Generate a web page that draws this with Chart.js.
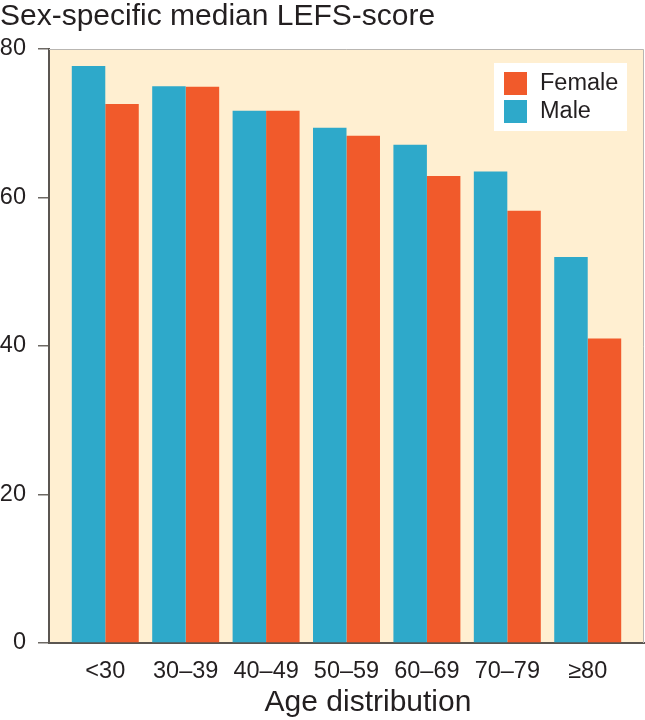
<!DOCTYPE html>
<html>
<head>
<meta charset="utf-8">
<script src="https://cdn.jsdelivr.net/npm/chart.js@4.4.1/dist/chart.umd.min.js"></script>
<style>
  body { margin: 0; background: #fff; }
  #wrap { width: 645px; height: 720px; }
</style>
</head>
<body>
<div id="wrap"><canvas id="lefsChart"></canvas></div>
<script>
// data
const ageGroups = ['<30', '30–39', '40–49', '50–59', '60–69', '70–79', '≥80'];
const maleScores = [77.7, 75.0, 71.7, 69.4, 67.1, 63.5, 52.0];
const femaleScores = [72.6, 74.9, 71.7, 68.3, 62.9, 58.2, 41.0];
const yTicks = [0, 20, 40, 60, 80];

const FONT = '"Liberation Sans", Arial, Helvetica, sans-serif';
const TEXT = '#231f20';
const BLUE = '#2ea9ca';
const ORANGE = '#f15a2b';

function points(values) {
    return values.map((v, i) => ({ x: i, y: v }));
}

// plot background + light top/right frame
const plotFrame = {
    id: 'plotFrame',
    beforeDraw(chart) {
        const { ctx, chartArea: a } = chart;
        ctx.save();
        ctx.fillStyle = '#ffefd1';
        ctx.fillRect(a.left, a.top, a.right - a.left, a.bottom - a.top);
        ctx.restore();
    },
    afterDraw(chart) {
        const { ctx, chartArea: a } = chart;
        ctx.save();
        ctx.strokeStyle = '#b9b6b2';
        ctx.lineWidth = 1;
        ctx.beginPath();
        ctx.moveTo(a.left, a.top + 0.5);
        ctx.lineTo(a.right - 0.5, a.top + 0.5);
        ctx.lineTo(a.right - 0.5, a.bottom);
        ctx.stroke();
        ctx.restore();
    }
};

// boxed legend in the top right corner, Female listed first
const boxLegend = {
    id: 'boxLegend',
    afterDraw(chart) {
        const ctx = chart.ctx;
        const sets = chart.data.datasets.slice().reverse();
        const x = 494, y = 63, w = 133, h = 68;
        ctx.save();
        ctx.fillStyle = '#ffffff';
        ctx.fillRect(x, y, w, h);
        ctx.font = '23.5px ' + FONT;
        ctx.textBaseline = 'middle';
        sets.forEach((ds, i) => {
            const top = y + 9 + i * 28;
            ctx.fillStyle = ds.backgroundColor;
            ctx.fillRect(x + 10, top, 23, 23);
            ctx.fillStyle = TEXT;
            ctx.fillText(ds.label, x + 46, top + 12);
        });
        ctx.restore();
    }
};

// x axis title, sits a little right of the plot centre in the figure
const xTitle = {
    id: 'xTitle',
    afterDraw(chart) {
        const ctx = chart.ctx;
        ctx.save();
        ctx.font = '30px ' + FONT;
        ctx.fillStyle = TEXT;
        ctx.textAlign = 'center';
        ctx.textBaseline = 'middle';
        ctx.fillText('Age distribution', 368, 703);
        ctx.restore();
    }
};

new Chart(document.getElementById('lefsChart'), {
    type: 'bar',
    data: {
        datasets: [{
            label: 'Male',
            data: points(maleScores),
            backgroundColor: BLUE
        }, {
            label: 'Female',
            data: points(femaleScores),
            backgroundColor: ORANGE
        }]
    },
    options: {
        responsive: true,
        maintainAspectRatio: false,
        animation: false,
        layout: { padding: { left: 0, right: 1, top: 0, bottom: 0 } },
        datasets: {
            bar: { categoryPercentage: 0.833, barPercentage: 1.0 }
        },
        plugins: {
            legend: { display: false },
            tooltip: { enabled: false },
            title: {
                display: true,
                text: 'Sex-specific median LEFS-score',
                align: 'start',
                color: TEXT,
                font: { family: FONT, size: 30, weight: 'normal', lineHeight: 1.1 },
                padding: { top: 0, bottom: 16 }
            }
        },
        scales: {
            x: {
                type: 'linear',
                min: -0.7,
                max: 6.7,
                offset: false,
                grid: { display: false, drawTicks: false },
                border: { display: true, color: '#5b5651', width: 2 },
                ticks: {
                    stepSize: 1,
                    includeBounds: false,
                    autoSkip: false,
                    maxRotation: 0,
                    padding: 14,
                    color: TEXT,
                    font: { family: FONT, size: 23.5 },
                    callback: (v) => ageGroups[v] ?? ''
                },
                afterFit(scale) { scale.height = 77; }
            },
            y: {
                min: yTicks[0],
                max: yTicks[yTicks.length - 1],
                grid: {
                    drawOnChartArea: false,
                    drawTicks: true,
                    tickLength: 11,
                    color: '#6d6964',
                    lineWidth: 1.5
                },
                border: { display: true, color: '#5b5651', width: 2 },
                ticks: {
                    stepSize: 20,
                    padding: 12,
                    color: TEXT,
                    font: { family: FONT, size: 23.5 }
                },
                afterBuildTicks(scale) {
                    scale.ticks = yTicks.map(v => ({ value: v }));
                },
                afterFit(scale) { scale.width = 49; }
            }
        }
    },
    plugins: [plotFrame, boxLegend, xTitle]
});
</script>
</body>
</html>
